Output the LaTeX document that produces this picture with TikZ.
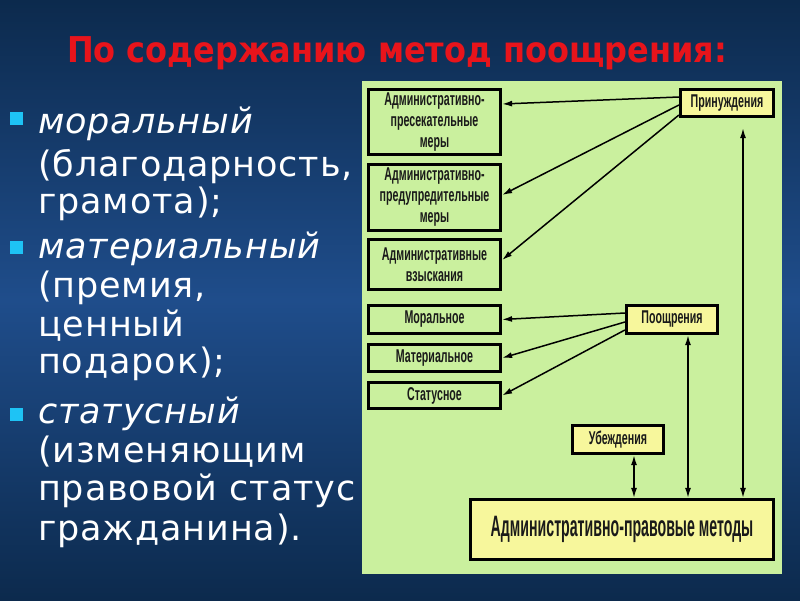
\documentclass[tikz,border=0pt]{standalone}
\usepackage{fontspec}
\setmainfont{DejaVu Sans}
\newfontfamily\listfont[LetterSpace=2.5]{DejaVu Sans}
\newfontfamily\titlefont{DejaVu Sans Condensed}
\newfontfamily\boxfont[FakeStretch=0.575]{Liberation Sans}
\newfontfamily\bigboxfont[FakeStretch=0.48]{Liberation Sans}
\usetikzlibrary{arrows.meta,calc}
\definecolor{bgdark}{HTML}{0C2A4D}
\definecolor{bgmid}{HTML}{1F4D8B}
\definecolor{panel}{HTML}{CAF09E}
\definecolor{ybox}{HTML}{F7F79C}
\definecolor{bulletc}{HTML}{1EC3F5}
\definecolor{titlered}{HTML}{E8141B}
\definecolor{boxtext}{HTML}{1A1A1A}
\begin{document}
\begin{tikzpicture}[x=1pt,y=-1pt,
  item/.style={anchor=base west, inner sep=0pt, text=white, font=\listfont\fontsize{35}{40}\selectfont},
  bul/.style={fill=bulletc, minimum size=13pt, inner sep=0pt},
  gbox/.style={draw=black, line width=2.7pt, fill=panel, inner sep=1pt, align=center,
     text=boxtext, font=\boxfont\bfseries\fontsize{18.5}{21}\selectfont},
  ybx/.style={gbox, fill=ybox},
  conn/.style={line width=1.5pt, -{Latex[length=10pt,width=6pt]}},
  biconn/.style={line width=1.5pt, {Latex[length=10pt,width=6pt]}-{Latex[length=10pt,width=6pt]}}
]
\useasboundingbox (0,0) rectangle (800,600);
\shade[top color=bgdark, bottom color=bgdark, middle color=bgmid] (0,0) rectangle (800,600);

% title
\node[anchor=base, inner sep=0pt, text=titlered] (title) at (397,62)
  {\resizebox{660pt}{!}{\titlefont\bfseries\fontsize{33}{40}\selectfont По содержанию метод поощрения:}};

% left list
\node[bul] (b1) at (16.5,118.5) {};
\node[bul] (b2) at (16.5,247.5) {};
\node[bul] (b3) at (16.5,414) {};
\node[item] (i1a) at (38,133) {\itshape моральный};
\node[item] (i1b) at (38,176) {(благодарность,};
\node[item] (i1c) at (38,213) {грамота);};
\node[item] (i2a) at (38,258) {\itshape материальный};
\node[item] (i2b) at (38,297) {(премия,};
\node[item] (i2c) at (38,336) {ценный};
\node[item] (i2d) at (38,373) {подарок);};
\node[item] (i3a) at (38,423) {\itshape статусный};
\node[item] (i3b) at (38,462) {(изменяющим};
\node[item] (i3c) at (38,500) {правовой статус};
\node[item] (i3d) at (38,540) {гражданина).};

% panel
\fill[panel] (362,81) rectangle (782,574);

% boxes
\node[gbox, minimum width=132.5pt, minimum height=65.5pt] (box1) at (434.5,122) {Административно-\\пресекательные\\меры};
\node[gbox, minimum width=132.5pt, minimum height=66.5pt] (box2) at (434.5,197.5) {Административно-\\предупредительные\\меры};
\node[gbox, minimum width=132.5pt, minimum height=50.5pt] (box3) at (434.5,264.5) {Административные\\взыскания};
\node[gbox, minimum width=132.5pt, minimum height=28.5pt] (moral) at (434.5,319.5) {Моральное};
\node[gbox, minimum width=132.5pt, minimum height=27.5pt] (mater) at (434.5,358) {Материальное};
\node[gbox, minimum width=132.5pt, minimum height=26.5pt] (stat) at (434.5,395.5) {Статусное};
\node[ybx, minimum width=93.5pt, minimum height=27.5pt] (prin) at (727,103) {Принуждения};
\node[ybx, minimum width=91.5pt, minimum height=28.5pt] (poos) at (672,319.5) {Поощрения};
\node[ybx, minimum width=91.5pt, minimum height=28.5pt] (ubezh) at (618,439.5) {Убеждения};
\node[ybx, minimum width=303.5pt, minimum height=60.5pt, font=\bigboxfont\bfseries\fontsize{29.5}{32}\selectfont] (apm) at (622,529.5) {Административно-правовые методы};

% connectors
\draw[conn] ([yshift=6pt]prin.west) -- ([yshift=18pt]box1.east);
\draw[conn] ([yshift=-2pt]prin.west) -- ([yshift=2.5pt]box2.east);
\draw[conn] ([yshift=-12pt]prin.west) -- ([yshift=4.5pt]box3.east);
\draw[conn] ([yshift=6.5pt]poos.west) -- (moral.east);
\draw[conn] ([yshift=-2.5pt]poos.west) -- (mater.east);
\draw[conn] ([yshift=-10.5pt]poos.west) -- (stat.east);
\draw[biconn, shorten <=10pt] ([xshift=16pt]prin.south) -- ([xshift=16pt]prin.south |- apm.north);
\draw[biconn] ([xshift=16pt]poos.south) -- ([xshift=16pt]poos.south |- apm.north);
\draw[biconn] ([xshift=16pt]ubezh.south) -- ([xshift=16pt]ubezh.south |- apm.north);
\end{tikzpicture}
\end{document}
